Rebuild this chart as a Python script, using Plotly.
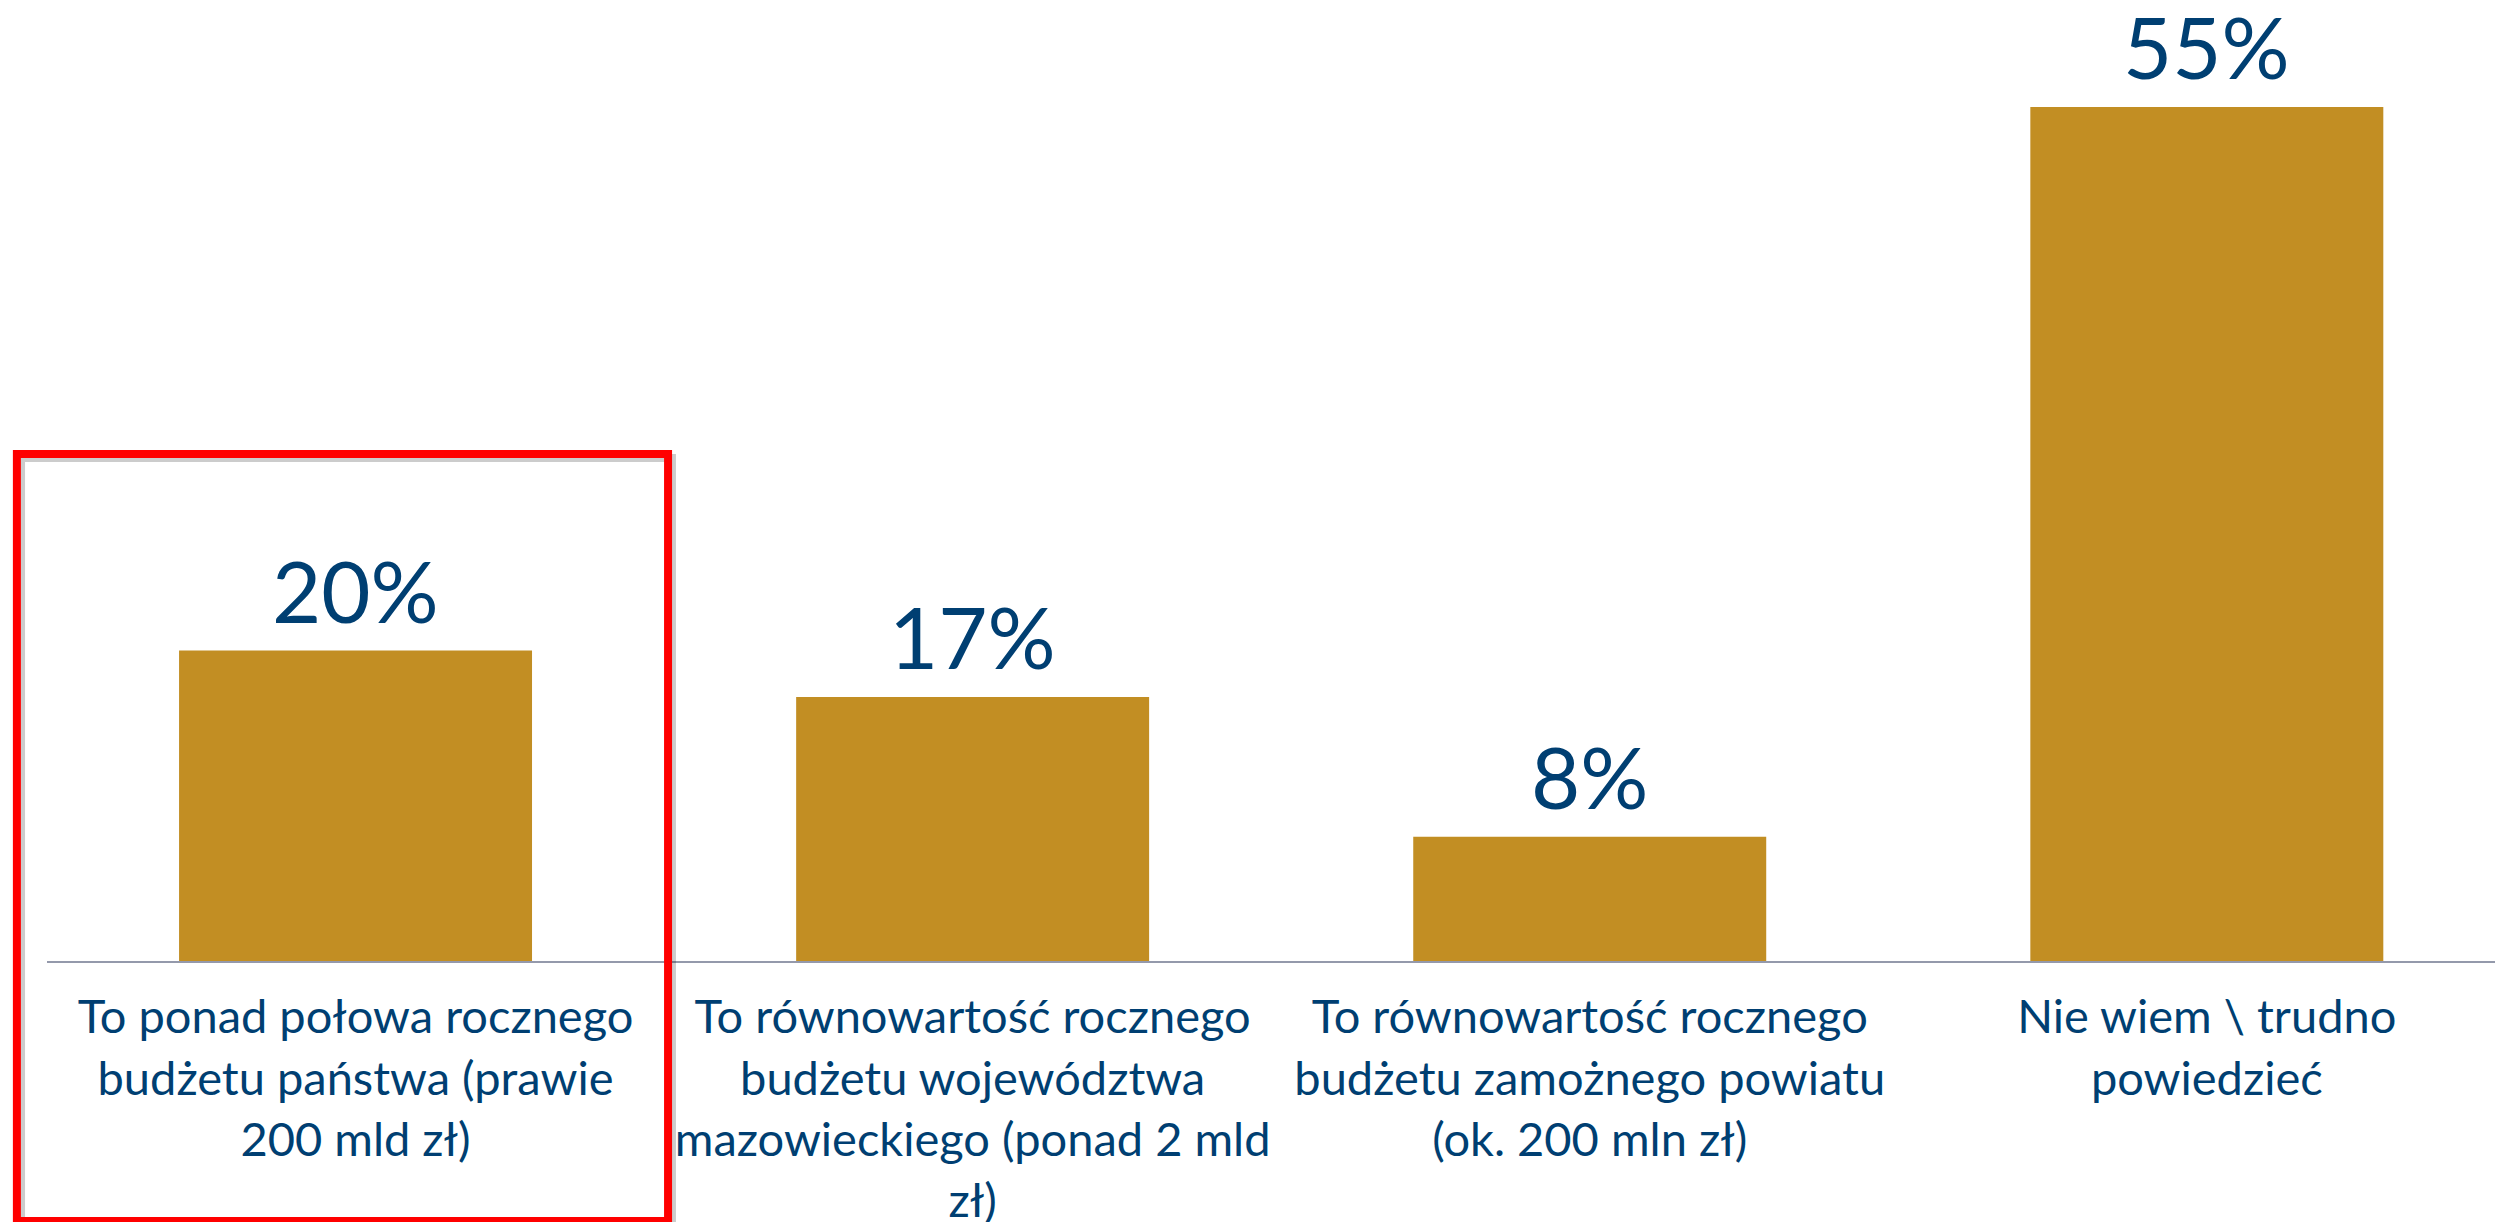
import plotly.graph_objects as go

# Survey answers (categories) and share of respondents
categories = [
    "To ponad połowa rocznego<br>budżetu państwa (prawie<br>200 mld zł)",
    "To równowartość rocznego<br>budżetu województwa<br>mazowieckiego (ponad 2 mld<br>zł)",
    "To równowartość rocznego<br>budżetu zamożnego powiatu<br>(ok. 200 mln zł)",
    "Nie wiem \\ trudno<br>powiedzieć",
]
values = [20, 17, 8, 55]
value_labels = [f"{v}%" for v in values]

bar_color = "#C28E23"
text_color = "#003F72"

fig = go.Figure(go.Bar(
    x=categories,
    y=values,
    marker=dict(color=bar_color, line=dict(width=0)),
))

# Value labels above the bars
for cat, val, lab in zip(categories, values, value_labels):
    fig.add_annotation(
        x=cat, y=val, text=lab, showarrow=False,
        yanchor="bottom", yshift=8,
        font=dict(family="Lato", size=85, color=text_color),
    )

# Red highlight box around the first answer, with a soft drop shadow
fig.add_shape(
    type="rect", xref="paper", yref="paper",
    x0=-0.0106, x1=0.2553, y0=-0.2706, y1=0.5234,
    line=dict(color="rgba(0,0,0,0.2)", width=8),
)
fig.add_shape(
    type="rect", xref="paper", yref="paper",
    x0=-0.0123, x1=0.2537, y0=-0.2706, y1=0.5276,
    line=dict(color="#FF0000", width=8),
)

fig.update_layout(
    width=2495, height=1222,
    margin=dict(l=47, r=0, t=0, b=261),
    plot_bgcolor="white", paper_bgcolor="white",
    bargap=0.428,
    showlegend=False,
    font=dict(family="Lato", color=text_color),
)
fig.update_xaxes(
    range=[-0.5, 3.467],
    automargin=False,
    showline=True, linecolor="#9499AB", linewidth=2,
    showgrid=False, ticks="",
    tickfont=dict(family="Lato", size=47, color=text_color),
    ticklabelstandoff=14,
    tickangle=0,
)
fig.update_yaxes(range=[0, 61.9], visible=False, showgrid=False,
                 zeroline=False, automargin=False)

# remove the default page margin so the figure starts at the window corner
fig.write_html("out.html", config={"displayModeBar": False},
               post_script="document.body.style.margin='0px';")
